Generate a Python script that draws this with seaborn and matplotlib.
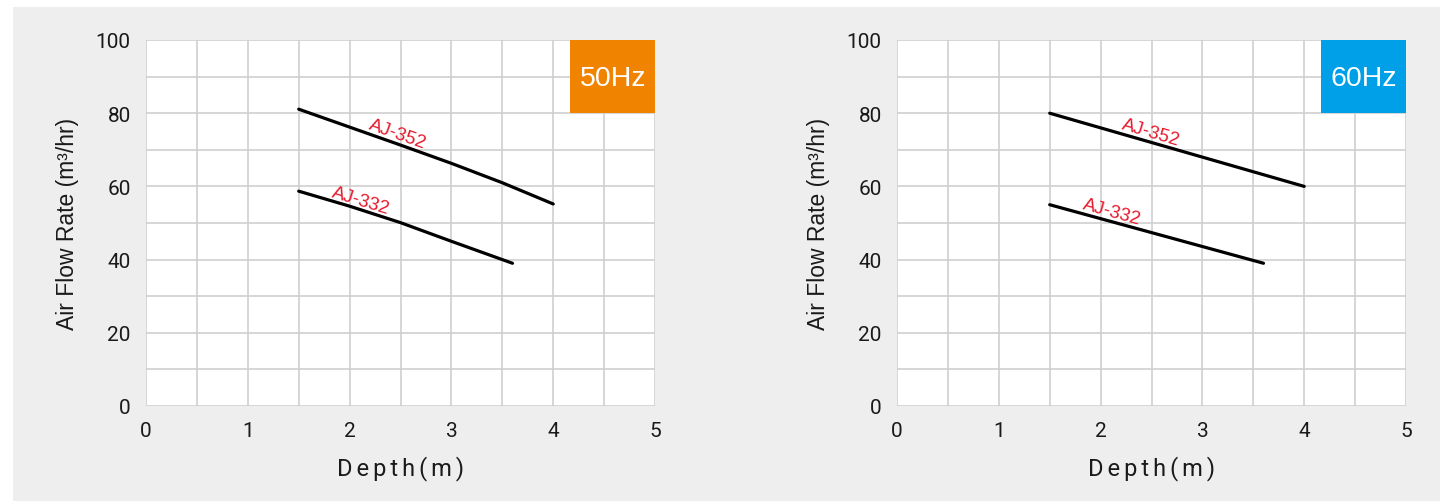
import matplotlib
matplotlib.use("Agg")
import matplotlib.pyplot as plt
import matplotlib.patches as mpatches
import seaborn as sns
import pandas as pd

sns.set_theme(style="white")
plt.rcParams['font.family'] = ['Roboto', 'DejaVu Sans']
SANS = ['Liberation Sans', 'DejaVu Sans']

# --- data ---
depth_352_50 = [1.5, 2.0, 2.5, 3.0, 3.5, 4.0]
flow_352_50 = [81.1, 76.2, 71.3, 66.3, 61.0, 55.2]
depth_332_50 = [1.5, 2.0, 2.5, 3.0, 3.5, 3.6]
flow_332_50 = [58.7, 54.6, 50.1, 45.0, 40.0, 39.0]

depth_352_60 = [1.5, 4.0]
flow_352_60 = [80.0, 60.0]
depth_332_60 = [1.5, 3.6]
flow_332_60 = [55.0, 39.0]

model_labels = ["AJ-352", "AJ-332"]
freq_labels = ["50Hz", "60Hz"]
badge_colors = ["#f08300", "#00a0e9"]
x_tick_labels = ["0", "1", "2", "3", "4", "5"]
y_tick_labels = ["0", "20", "40", "60", "80", "100"]

panels = [
    dict(d352=depth_352_50, f352=flow_352_50, d332=depth_332_50, f332=flow_332_50,
         lab352=(2.47, 74.3, -19.5), lab332=(2.11, 56.1, -17)),
    dict(d352=depth_352_60, f352=flow_352_60, d332=depth_332_60, f332=flow_332_60,
         lab352=(2.49, 74.9, -16.5), lab332=(2.115, 53.2, -15.5)),
]

fig = plt.figure(figsize=(14.4, 5.02), dpi=100, facecolor="white")
# grey background panel
bg = mpatches.Rectangle((13 / 1440, 0), 1 - 13 / 1440, 1 - 8 / 502,
                        transform=fig.transFigure, facecolor="#edeeed",
                        edgecolor="none", zorder=-10)
fig.add_artist(bg)

lefts = [146 / 1440, 897 / 1440]
w = 509 / 1440
b = 1 - 407 / 502
h = 366 / 502

for i, p in enumerate(panels):
    ax = fig.add_axes([lefts[i], b, w, h])
    ax.set_zorder(1)
    ax.set_facecolor("white")
    ax.set_xlim(0, 5)
    ax.set_ylim(0, 100)
    ax.grid(True, color="#cfcfcf", linewidth=1.2)
    for s in ax.spines.values():
        s.set_visible(False)
    ax.set_axisbelow(True)

    df1 = pd.DataFrame({"x": p["d352"], "y": p["f352"]})
    df2 = pd.DataFrame({"x": p["d332"], "y": p["f332"]})
    sns.lineplot(data=df1, x="x", y="y", ax=ax, color="black", linewidth=2.3)
    sns.lineplot(data=df2, x="x", y="y", ax=ax, color="black", linewidth=2.3)

    for lab, key in zip(model_labels, ["lab352", "lab332"]):
        x, y, r = p[key]
        ax.text(x, y, lab, color="#e8192c", fontsize=13.5, rotation=r,
                ha="center", va="center", rotation_mode="anchor", family=SANS)

    # frequency badge
    ax.add_patch(mpatches.Rectangle((4.165, 80), 0.835, 20, facecolor=badge_colors[i],
                                    edgecolor="none", zorder=3))
    ax.text(4.585, 89.5, freq_labels[i], color="white", fontsize=20.5,
            ha="center", va="center", zorder=4, family=SANS)

    ax.set_xticks([v / 2 for v in range(11)])
    ax.set_xticklabels([x_tick_labels[v // 2] if v % 2 == 0 else "" for v in range(11)])
    ax.set_yticks(list(range(0, 101, 10)))
    ax.set_yticklabels([y_tick_labels[v // 2] if v % 2 == 0 else "" for v in range(11)])
    ax.tick_params(axis="both", length=0, labelsize=15, colors="#1a1a1a")
    ax.tick_params(axis="x", pad=11)
    ax.tick_params(axis="y", pad=11)

    ax.set_xlabel("\u2006".join("Depth(m)"), fontsize=17, color="#1a1a1a", labelpad=11)
    ax.set_ylabel("Air Flow Rate (m³/hr)", fontsize=16.5, color="#1a1a1a", labelpad=12,
                  family=SANS)

fig.savefig("out.png", dpi=100, facecolor=fig.get_facecolor())
